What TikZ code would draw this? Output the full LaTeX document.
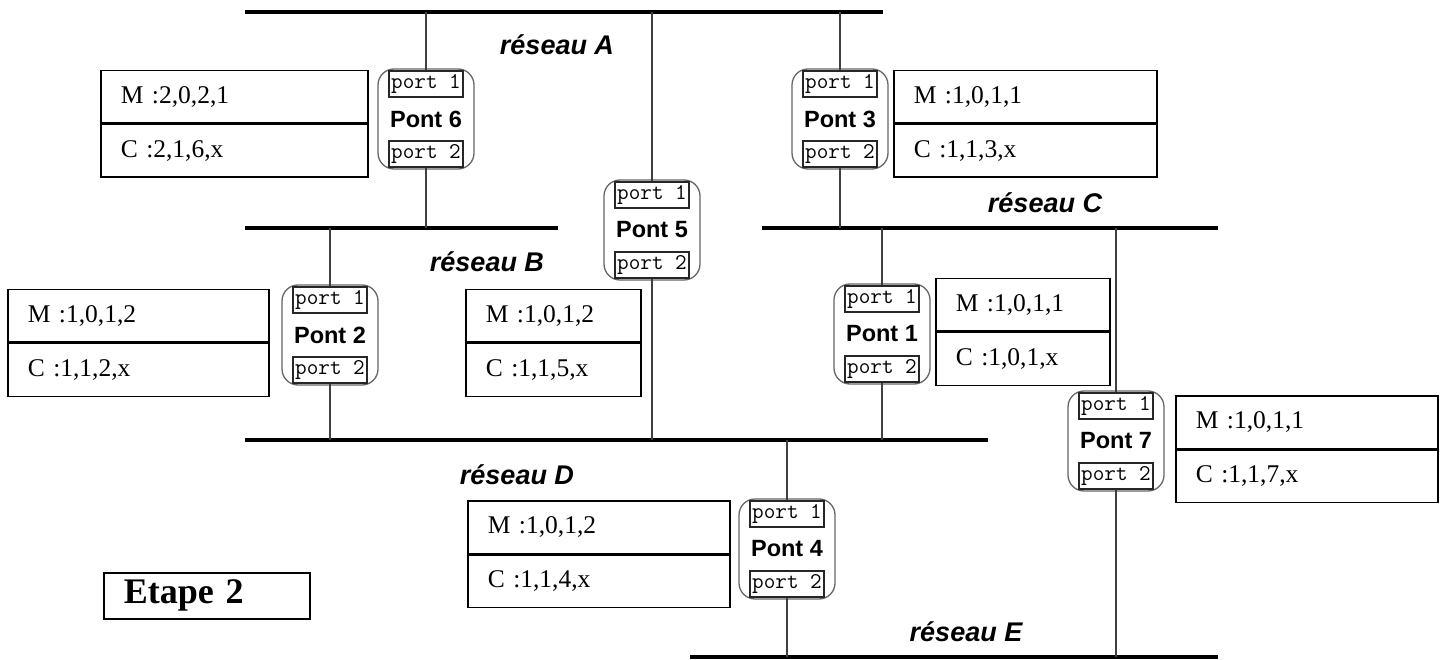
\documentclass[tikz,border=0pt]{standalone}
\usepackage{fontspec}
\setmainfont{Liberation Serif}
\newfontfamily\netfont{Liberation Sans}
\usetikzlibrary{positioning}

\begin{document}
\begin{tikzpicture}[
    x=1pt, y=-1pt,
    bus/.style={line width=3.5pt},
    link/.style={line width=1.4pt, draw=black!75},
    pont/.style={draw=black!60, line width=1.3pt, rounded corners=16pt, minimum width=96pt, minimum height=100pt, inner sep=0pt, font=\netfont\bfseries\fontsize{23.5}{26}\selectfont},
    port/.style={draw=black!85, line width=1.4pt, fill=white, minimum width=74pt, minimum height=26pt, inner sep=0pt, font=\ttfamily\fontsize{22.5}{24}\selectfont},
    net/.style={font=\netfont\bfseries\itshape\fontsize{27}{30}\selectfont},
    cell/.style={draw, line width=1.5pt, text width=#1, inner xsep=20pt, inner ysep=0pt, minimum height=52.5pt, align=left, font=\fontsize{25.5}{28}\selectfont},
    etape/.style={draw, line width=1.5pt, text width=166pt, inner xsep=20pt, minimum height=46pt, align=left, font=\bfseries\fontsize{36}{40}\selectfont}
]
    \useasboundingbox (0,0) rectangle (1446,660);

    % Networks
    \coordinate (A1) at (245,12);  \coordinate (A2) at (883,12);
    \coordinate (B1) at (245,228); \coordinate (B2) at (558,228);
    \coordinate (C1) at (762,228); \coordinate (C2) at (1218,228);
    \coordinate (D1) at (245,440); \coordinate (D2) at (988,440);
    \coordinate (E1) at (690,657); \coordinate (E2) at (1218,657);
    \draw [bus] (A1) -- (A2);
    \draw [bus] (B1) -- (B2);
    \draw [bus] (C1) -- (C2);
    \draw [bus] (D1) -- (D2);
    \draw [bus] (E1) -- (E2);

    \node (labA) [net] at (557,45) {réseau A};
    \node (labB) [net] at (487,262) {réseau B};
    \node (labC) [net] at (1045,203) {réseau C};
    \node (labD) [net] at (517,475) {réseau D};
    \node (labE) [net] at (966,632) {réseau E};

    % Bridges
    \node (pont6) [pont] at (426,119) {Pont 6};
    \node (pont3) [pont] at (840,119) {Pont 3};
    \node (pont5) [pont] at (652,230) {Pont 5};
    \node (pont2) [pont] at (330,335) {Pont 2};
    \node (pont1) [pont] at (882,334) {Pont 1};
    \node (pont7) [pont] at (1116,441) {Pont 7};
    \node (pont4) [pont] at (787,549) {Pont 4};

    % Ports
    \foreach \b in {1,...,7} {
        \node (p\b a) [port, below=2pt of pont\b.north] {port 1};
        \node (p\b b) [port, above=2pt of pont\b.south] {port 2};
    }

    % Links
    \draw [link] (p6a) -- (p6a |- A1);
    \draw [link] (p6b) -- (p6b |- B1);
    \draw [link] (p3a) -- (p3a |- A1);
    \draw [link] (p3b) -- (p3b |- C1);
    \draw [link] (p5a) -- (p5a |- A1);
    \draw [link] (p5b) -- (p5b |- D1);
    \draw [link] (p2a) -- (p2a |- B1);
    \draw [link] (p2b) -- (p2b |- D1);
    \draw [link] (p1a) -- (p1a |- C1);
    \draw [link] (p1b) -- (p1b |- D1);
    \draw [link] (p7a) -- (p7a |- C1);
    \draw [link] (p7b) -- (p7b |- E1);
    \draw [link] (p4a) -- (p4a |- D1);
    \draw [link] (p4b) -- (p4b |- E1);

    % Tables
    \node (t6m) [cell=227pt, anchor=north west] at (100,70) {M :2,0,2,1};
    \node (t6c) [cell=227pt, below=0pt of t6m] {C :2,1,6,x};
    \node (t3m) [cell=223pt, anchor=north west] at (893,70) {M :1,0,1,1};
    \node (t3c) [cell=223pt, below=0pt of t3m] {C :1,1,3,x};
    \node (t2m) [cell=221pt, anchor=north west] at (7,289) {M :1,0,1,2};
    \node (t2c) [cell=221pt, below=0pt of t2m] {C :1,1,2,x};
    \node (t5m) [cell=135pt, anchor=north west] at (465,289) {M :1,0,1,2};
    \node (t5c) [cell=135pt, below=0pt of t5m] {C :1,1,5,x};
    \node (t1m) [cell=134pt, anchor=north west] at (935,278) {M :1,0,1,1};
    \node (t1c) [cell=134pt, below=0pt of t1m] {C :1,0,1,x};
    \node (t7m) [cell=222pt, anchor=north west] at (1175,395) {M :1,0,1,1};
    \node (t7c) [cell=222pt, below=0pt of t7m] {C :1,1,7,x};
    \node (t4m) [cell=222pt, anchor=north west] at (467,500) {M :1,0,1,2};
    \node (t4c) [cell=222pt, below=0pt of t4m] {C :1,1,4,x};

    % Step
    \node (etape) [etape, anchor=north west] at (103,572) {Etape 2};

\end{tikzpicture}
\end{document}
